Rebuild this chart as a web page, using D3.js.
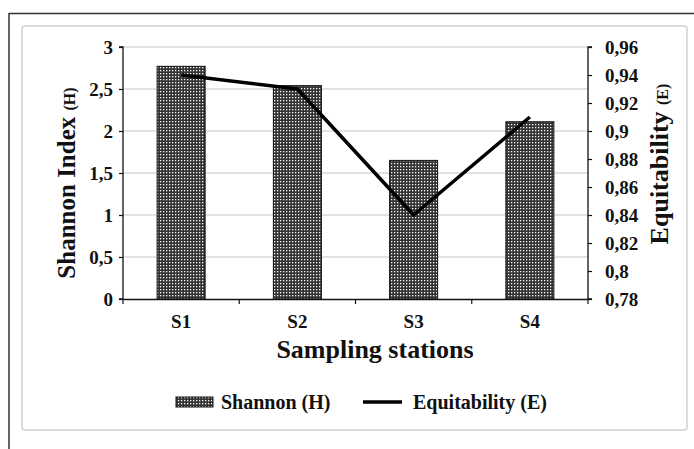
<!DOCTYPE html>
<html>
<head>
<meta charset="utf-8">
<script src="https://cdn.jsdelivr.net/npm/d3@7"></script>
<style>
body { margin: 0; background: #fff; }
text { font-family: "Liberation Serif", "Times New Roman", serif; font-weight: bold; fill: #111; }
</style>
</head>
<body>
<div id="chart"></div>
<script>
// data
var stations = ["S1", "S2", "S3", "S4"];
var shannon = [2.77, 2.54, 1.65, 2.11];
var equitability = [0.94, 0.93, 0.84, 0.91];
var leftTicks = [0, 0.5, 1, 1.5, 2, 2.5, 3];
var rightTicks = [0.78, 0.8, 0.82, 0.84, 0.86, 0.88, 0.9, 0.92, 0.94, 0.96];

var w = 694, h = 449;
var plotLeft = 123, plotRight = 588, plotTop = 47, plotBottom = 299;

var svg = d3.select("#chart").append("svg")
	.attr("width", w)
	.attr("height", h);

// checkered fill for the bars
var defs = svg.append("defs");
var pat = defs.append("pattern")
	.attr("id", "checks")
	.attr("patternUnits", "userSpaceOnUse")
	.attr("width", 3)
	.attr("height", 3);
pat.append("rect").attr("width", 3).attr("height", 3).attr("fill", "#333");
pat.append("rect").attr("x", 1).attr("y", 1).attr("width", 1.3).attr("height", 1.3).attr("fill", "#fafafa");

// frame
svg.append("line").attr("x1", 9).attr("x2", w).attr("y1", 13.5).attr("y2", 13.5)
	.style("stroke", "#333").style("stroke-width", 1.5);
svg.append("line").attr("x1", 9).attr("x2", 9).attr("y1", 13).attr("y2", h)
	.style("stroke", "#333").style("stroke-width", 1.5);
svg.append("rect").attr("x", 22).attr("y", 26).attr("width", 665).attr("height", 404)
	.attr("rx", 3)
	.style("fill", "none").style("stroke", "#dcdcdc").style("stroke-width", 2);

var xs = d3.scaleBand().domain(stations).range([plotLeft, plotRight]);
var yL = d3.scaleLinear().domain([0, 3]).range([plotBottom, plotTop]);
var yR = d3.scaleLinear().domain([0.78, 0.96]).range([plotBottom, plotTop]);

// gridlines
svg.selectAll(".grid")
	.data(leftTicks.slice(1))
	.enter()
	.append("line")
	.attr("x1", plotLeft).attr("x2", plotRight)
	.attr("y1", function(d) { return yL(d); })
	.attr("y2", function(d) { return yL(d); })
	.style("stroke", "#d9d9d9").style("stroke-width", 1.5);

// bars
svg.selectAll(".bar")
	.data(shannon)
	.enter()
	.append("rect")
	.attr("x", function(d, i) { return xs(stations[i]) + xs.bandwidth() / 2 - 24; })
	.attr("width", 48)
	.attr("y", function(d) { return yL(d); })
	.attr("height", function(d) { return plotBottom - yL(d); })
	.style("fill", "url(#checks)")
	.style("stroke", "#111").style("stroke-width", 1);

// line
var line = d3.line()
	.x(function(d, i) { return xs(stations[i]) + xs.bandwidth() / 2; })
	.y(function(d) { return yR(d); });
svg.append("path")
	.datum(equitability)
	.attr("d", line)
	.style("fill", "none").style("stroke", "#000").style("stroke-width", 3.5)
	.style("stroke-linejoin", "round");

// axes
var axL = svg.append("g").attr("transform", "translate(" + plotLeft + ",0)")
	.call(d3.axisLeft(yL).tickValues(leftTicks).tickSize(4).tickPadding(6)
		.tickFormat(function(d) { return String(d).replace(".", ","); }));
var axR = svg.append("g").attr("transform", "translate(" + plotRight + ",0)")
	.call(d3.axisRight(yR).tickValues(rightTicks).tickSize(4).tickPadding(12)
		.tickFormat(function(d) { return String(+d.toFixed(2)).replace(".", ","); }));
var axB = svg.append("g").attr("transform", "translate(0," + plotBottom + ")")
	.call(d3.axisBottom(xs).tickSize(0).tickPadding(16));
// category boundary ticks
svg.selectAll(".xt")
	.data(stations.concat(["end"]))
	.enter()
	.append("line")
	.attr("x1", function(d, i) { return plotLeft + i * xs.step(); })
	.attr("x2", function(d, i) { return plotLeft + i * xs.step(); })
	.attr("y1", plotBottom).attr("y2", plotBottom + 5)
	.style("stroke", "#111").style("stroke-width", 1.2);

[axL, axR, axB].forEach(function(a) {
	a.select(".domain").attr("stroke", "#111").attr("stroke-width", 1.3);
	a.selectAll(".tick line").attr("stroke", "#111").attr("stroke-width", 1.2);
	a.selectAll("text").style("font-family", "Liberation Serif, serif")
		.style("font-weight", "bold").style("font-size", "19px").attr("fill", "#111");
});
axL.select(".domain").attr("d", "M-4," + plotTop + "H0V" + plotBottom + "H-4");
axR.select(".domain").attr("d", "M4," + plotTop + "H0V" + plotBottom + "H4");
axR.selectAll("text").attr("x", 17);

// axis titles
var tl = svg.append("text")
	.attr("transform", "translate(75,183) rotate(-90)")
	.attr("text-anchor", "middle")
	.style("font-size", "25px");
tl.append("tspan").text("Shannon Index ");
tl.append("tspan").style("font-size", "16px").text("(H)");

var tr = svg.append("text")
	.attr("transform", "translate(668,164) rotate(-90)")
	.attr("text-anchor", "middle")
	.style("font-size", "26px");
tr.append("tspan").text("Equitability ");
tr.append("tspan").style("font-size", "16px").text("(E)");

svg.append("text")
	.attr("x", 375).attr("y", 358)
	.attr("text-anchor", "middle")
	.style("font-size", "26px")
	.text("Sampling stations");

// legend
svg.append("rect").attr("x", 176).attr("y", 397).attr("width", 37).attr("height", 10)
	.style("fill", "url(#checks)").style("stroke", "#111").style("stroke-width", 1);
svg.append("text").attr("x", 221).attr("y", 409).style("font-size", "20px")
	.text("Shannon  (H)");
svg.append("line").attr("x1", 363).attr("x2", 402).attr("y1", 402).attr("y2", 402)
	.style("stroke", "#000").style("stroke-width", 3.5);
svg.append("text").attr("x", 413).attr("y", 409).style("font-size", "20px")
	.text("Equitability  (E)");
</script>
</body>
</html>
